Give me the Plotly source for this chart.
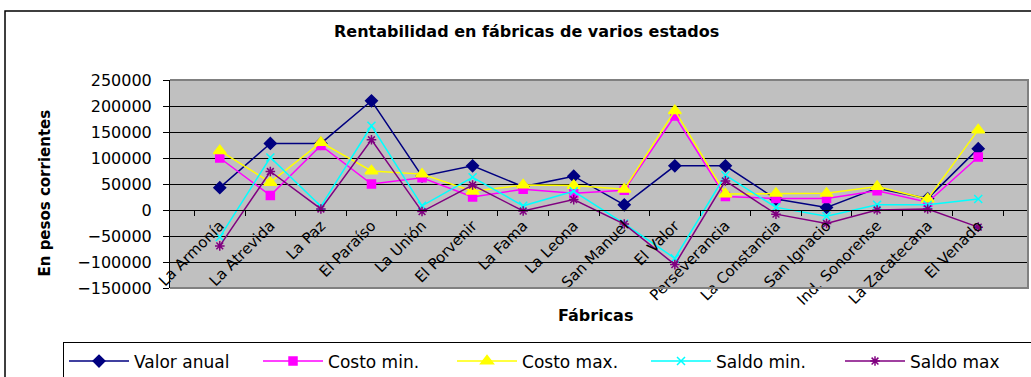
import plotly.graph_objects as go

categorias = ["La Armonía", "La Atrevida", "La Paz", "El Paraíso", "La Unión", "El Porvenir",
              "La Fama", "La Leona", "San Manuel", "El Valor", "Perseverancia", "La Constancia",
              "San Ignacio", "Ind. Sonorense", "La Zacatecana", "El Venado"]

valor_anual = [43000, 128000, 128000, 210000, 65000, 85000, 45000, 65000, 10000, 85000,
               85000, 21000, 5000, 42000, 22000, 118000]
costo_min = [100000, 28000, 124000, 50000, 62000, 25000, 40000, 32000, 38000, 181000,
             26000, 22000, 22000, 37000, 15000, 102000]
costo_max = [114000, 53000, 130000, 75000, 69000, 36000, 48000, 47000, 40000, 191000,
             31000, 32000, 32000, 45000, 21000, 154000]
saldo_min = [-52000, 101000, 7000, 162000, 8000, 63000, 8000, 36000, -26000, -93000,
             67000, 5000, -12000, 10000, 10000, 21000]
saldo_max = [-69000, 74000, 2000, 135000, -3000, 48000, -2000, 20000, -27000, -105000,
             56000, -8000, -26000, 0, 2000, -33000]

y_ticks = [-150000, -100000, -50000, 0, 50000, 100000, 150000, 200000, 250000]

FONT = "DejaVu Sans"

series = [
    ("Valor anual", valor_anual, "#000080", "diamond", 9),
    ("Costo min.", costo_min, "#FF00FF", "square", 8),
    ("Costo max.", costo_max, "#FFFF00", "triangle-up", 11),
    ("Saldo min.", saldo_min, "#00FFFF", "x-thin-open", 8),
    ("Saldo max", saldo_max, "#800080", "asterisk-open", 8),
]

fig = go.Figure()
for name, vals, color, sym, size in series:
    fig.add_trace(go.Scatter(
        x=categorias, y=vals, name=name, mode="lines+markers",
        line=dict(color=color, width=1.5),
        marker=dict(symbol=sym, size=size, color=color,
                    line=dict(color=color, width=1.5)),
    ))

ymin, ymax = -150000, 250000
zero_pos = (0 - ymin) / (ymax - ymin)

fig.update_layout(
    width=1031, height=377, autosize=False,
    margin=dict(l=170, r=3, t=80, b=89, autoexpand=False),
    paper_bgcolor="white", plot_bgcolor="#C0C0C0",
    font=dict(family=FONT, color="black", size=15),
    showlegend=True,
    legend=dict(orientation="h", x=-0.1247, xanchor="left", y=-0.262, yanchor="top",
                bordercolor="black", borderwidth=1, bgcolor="white",
                font=dict(family=FONT, size=17), entrywidth=119, entrywidthmode="pixels",
                itemwidth=60),
    xaxis=dict(type="category", anchor="free", position=zero_pos, showgrid=False,
               showline=True, linecolor="black", linewidth=1, ticks="outside",
               tickson="boundaries", ticklen=5, tickcolor="black", tickangle=-45,
               tickfont=dict(family=FONT, size=15, color="black"), zeroline=False),
    yaxis=dict(range=[ymin, ymax], tickvals=y_ticks, tickformat="d",
               showgrid=True, gridcolor="black", gridwidth=1, zeroline=False,
               showline=True, linecolor="black", linewidth=1, ticks="outside",
               ticklen=6, tickcolor="black", ticklabelstandoff=8,
               tickfont=dict(family=FONT, size=16, color="black")),
    shapes=[
        dict(type="path", xref="paper", yref="paper", path="M0,1 L1,1 L1,0 L0,0",
             line=dict(color="#808080", width=2), layer="above"),
        dict(type="rect", xref="paper", yref="paper", x0=-0.1923, x1=1.02, y0=-0.5, y1=1.332,
             line=dict(color="black", width=1.5), layer="below"),
    ],
    annotations=[
        dict(text="<b>Rentabilidad en fábricas de varios estados</b>", xref="paper", yref="paper",
             x=0.416, y=1.233, xanchor="center", yanchor="middle", showarrow=False,
             font=dict(family=FONT, size=16)),
        dict(text="<b>En pesos corrientes</b>", xref="paper", yref="paper",
             x=-0.1457, y=0.459, xanchor="center", yanchor="middle", textangle=-90,
             showarrow=False, font=dict(family=FONT, size=15)),
        dict(text="<b>Fábricas</b>", xref="paper", yref="paper",
             x=0.4965, y=-0.13, xanchor="center", yanchor="middle", showarrow=False,
             font=dict(family=FONT, size=16)),
    ],
)

fig.write_html("out.html")
